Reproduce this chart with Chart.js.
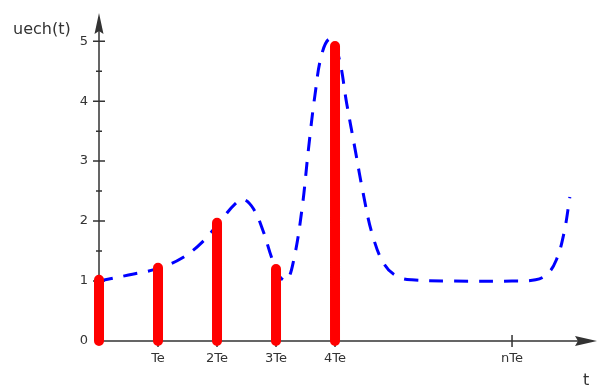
<!DOCTYPE html>
<html>
<head>
<meta charset="utf-8">
<script src="https://cdn.jsdelivr.net/npm/chart.js@4.4.1/dist/chart.umd.min.js"></script>
<style>
  html, body { margin: 0; padding: 0; background: #fff; }
  #wrap { width: 598px; height: 392px; position: relative; }
</style>
</head>
<body>
<div id="wrap"><canvas id="chart"></canvas></div>
<script>
// sampled values u(nTe)
const STEM_X      = [0, 1, 2, 3, 4];
const STEM_VALUES = [1.02, 1.22, 1.97, 1.2, 4.92];

// continuous signal u(t), t in units of Te
const CURVE_T = [0, 0.5, 1.0, 1.4, 1.75, 2.1, 2.3, 2.45, 2.62, 2.78, 2.93, 3.06, 3.18,
                 3.3, 3.44, 3.55, 3.66, 3.78, 3.92, 4.06, 4.2, 4.34, 4.48, 4.64, 4.84,
                 5.05, 5.3, 6.0, 7.0, 7.4, 7.6, 7.75, 7.88, 7.98];
const CURVE_U = [1.0, 1.1, 1.21, 1.38, 1.65, 2.05, 2.28, 2.36, 2.2, 1.84, 1.38, 1.08, 1.01,
                 1.35, 2.2, 3.2, 4.1, 4.8, 5.04, 4.75, 3.95, 3.2, 2.45, 1.75, 1.27,
                 1.08, 1.02, 1.0, 1.0, 1.02, 1.12, 1.35, 1.8, 2.4];

const Y_LABELS     = [0, 1, 2, 3, 4, 5];
const Y_MAJOR      = [1, 2, 3, 4, 5];
const Y_MINOR      = [0.5, 1.5, 2.5, 3.5, 4.5];
const X_TICKS      = [1, 2, 3, 4, 7];
const X_TICK_NAMES = ['Te', '2Te', '3Te', '4Te', 'nTe'];
const Y_TITLE = 'uech(t)';
const X_TITLE = 't';

const AXIS = '#333';
const FONT = '"DejaVu Sans", sans-serif';

function stemPoints() {
  const pts = [];
  STEM_X.forEach((x, i) => {
    pts.push({ x, y: 0 }, { x, y: STEM_VALUES[i] }, { x, y: null });
  });
  return pts;
}

const axesPlugin = {
  id: 'axes',
  beforeDatasetsDraw(chart) {
    const { ctx, chartArea: a, scales: { x, y } } = chart;
    const x0 = x.getPixelForValue(0);
    const y0 = y.getPixelForValue(0);
    ctx.save();
    ctx.strokeStyle = AXIS;
    ctx.fillStyle = AXIS;
    ctx.lineWidth = 1.5;

    // axis lines
    ctx.beginPath();
    ctx.moveTo(x0, y0);
    ctx.lineTo(a.right - 14, y0);
    ctx.moveTo(x0, y0);
    ctx.lineTo(x0, a.top + 14);
    ctx.stroke();

    // arrow heads
    ctx.beginPath();
    ctx.moveTo(a.right, y0);
    ctx.lineTo(a.right - 22, y0 - 5);
    ctx.lineTo(a.right - 19, y0);
    ctx.lineTo(a.right - 22, y0 + 5);
    ctx.closePath();
    ctx.fill();
    ctx.beginPath();
    ctx.moveTo(x0, a.top);
    ctx.lineTo(x0 - 4.5, a.top + 21);
    ctx.lineTo(x0, a.top + 18);
    ctx.lineTo(x0 + 4.5, a.top + 21);
    ctx.closePath();
    ctx.fill();

    // y ticks
    ctx.beginPath();
    Y_MAJOR.forEach(v => {
      const p = y.getPixelForValue(v);
      ctx.moveTo(x0 - 6, p); ctx.lineTo(x0 + 6, p);
    });
    Y_MINOR.forEach(v => {
      const p = y.getPixelForValue(v);
      ctx.moveTo(x0 - 3, p); ctx.lineTo(x0 + 3, p);
    });
    // x ticks
    X_TICKS.forEach(v => {
      const p = x.getPixelForValue(v);
      ctx.moveTo(p, y0 - 6); ctx.lineTo(p, y0 + 6);
    });
    ctx.stroke();

    // labels
    ctx.fillStyle = '#333';
    ctx.font = '13px ' + FONT;
    ctx.textAlign = 'right';
    ctx.textBaseline = 'middle';
    Y_LABELS.forEach(v => {
      ctx.fillText(String(v), x0 - 11, y.getPixelForValue(v));
    });
    ctx.textAlign = 'center';
    X_TICKS.forEach((v, i) => {
      ctx.fillText(X_TICK_NAMES[i], x.getPixelForValue(v), y0 + 18);
    });
    ctx.font = '16px ' + FONT;
    ctx.textAlign = 'left';
    ctx.fillText(Y_TITLE, 13, 30);
    ctx.fillText(X_TITLE, 583, 381);
    ctx.restore();
  }
};

new Chart(document.getElementById('chart').getContext('2d'), {
  type: 'line',
  data: {
    datasets: [
      {
        label: 'samples',
        data: stemPoints(),
        borderColor: '#ff0000',
        borderWidth: 10,
        borderCapStyle: 'round',
        borderJoinStyle: 'round',
        pointRadius: 0,
        tension: 0,
        spanGaps: false,
        clip: false,
        order: 0
      },
      {
        label: 'u(t)',
        data: CURVE_T.map((t, i) => ({ x: t, y: CURVE_U[i] })),
        borderColor: '#0000ff',
        borderWidth: 3,
        borderDash: [14, 11],
        borderCapStyle: 'butt',
        pointRadius: 0,
        tension: 0.4,
        clip: false,
        order: 1
      }
    ]
  },
  options: {
    responsive: true,
    maintainAspectRatio: false,
    animation: false,
    layout: { padding: { left: 99, right: 1, top: 13, bottom: 51 } },
    plugins: {
      legend: { display: false },
      tooltip: { enabled: false }
    },
    scales: {
      x: { type: 'linear', min: 0, max: 8.44, display: false },
      y: { type: 'linear', min: 0, max: 5.47, display: false }
    }
  },
  plugins: [axesPlugin]
});
</script>
</body>
</html>
